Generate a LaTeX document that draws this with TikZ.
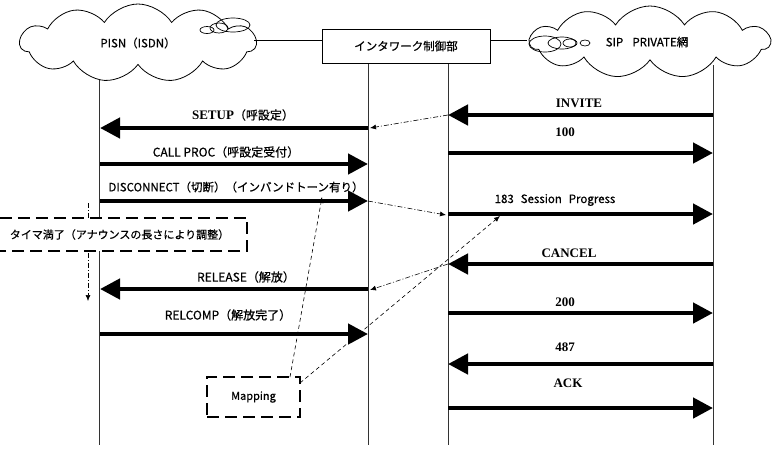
\documentclass[tikz,border=0pt]{standalone}
\usepackage{fontspec}
\usetikzlibrary{arrows.meta,shapes.symbols,calc}
\newfontfamily\jp[FakeBold=0.6]{Noto Sans CJK JP}
\newfontfamily\tms{Liberation Serif}
\begin{document}
\begin{tikzpicture}[x=1pt,y=-1pt,
  lifeline/.style={line width=0.8pt, draw=black!80},
  msg/.style={line width=4.5pt, -{Triangle[length=20pt,width=20pt]}},
  jplabel/.style={font=\jp\fontsize{12}{14}\selectfont, inner sep=0pt},
  siplabel/.style={font=\tms\bfseries\fontsize{13}{15}\selectfont, inner sep=0pt},
  dashdot/.style={line width=0.6pt, dash pattern=on 5pt off 2pt on 1pt off 2pt, -{Latex[length=6pt,width=5pt]}},
  mapline/.style={line width=0.6pt, dash pattern=on 4pt off 3pt, -{Latex[length=6pt,width=5pt]}},
  thickdash/.style={line width=2pt, dash pattern=on 12pt off 6pt},
  netcloud/.style={cloud, draw, fill=white, line width=0.8pt, cloud puffs=11, cloud puff arc=115, aspect=3.1, inner sep=0pt, font=\jp\fontsize{11.5}{13}\selectfont},
  smallell/.style={draw, line width=0.7pt}
]
\useasboundingbox (0,0) rectangle (775,475);

% lifeline coordinates
\coordinate (pt) at (99,70);   \coordinate (pb) at (99,445);
\coordinate (lt) at (368,63);  \coordinate (lb) at (368,445);
\coordinate (rt) at (448,63);  \coordinate (rb) at (448,445);
\coordinate (st) at (713,65);  \coordinate (sb) at (713,445);
\draw[lifeline] (pt) -- (pb);
\draw[lifeline] (lt) -- (lb);
\draw[lifeline] (rt) -- (rb);
\draw[lifeline] (st) -- (sb);

% clouds
\node[netcloud, minimum width=236pt, minimum height=78pt] (pisn) at (138,43) {PISN（ISDN）};
\node[netcloud, minimum width=240pt, minimum height=72pt] (sip) at (650,42) {\hspace{-6pt}SIP\hspace{0.8em}PRIVATE網};
\draw[smallell] (207,30) ellipse [x radius=7, y radius=3.5];
\draw[smallell] (219,28) ellipse [x radius=9, y radius=5];
\draw[smallell] (233,25) ellipse [x radius=17, y radius=7];
\draw[smallell] (545,44) ellipse [x radius=16, y radius=8];
\draw[smallell] (562,43) ellipse [x radius=14, y radius=6];
\draw[smallell] (570,43) ellipse [x radius=7, y radius=4];
\draw[smallell] (585,43) ellipse [x radius=5, y radius=3];

% interwork box
\node[draw, line width=0.8pt, fill=white, minimum width=168pt, minimum height=34pt, inner sep=0pt, font=\jp\fontsize{11.5}{13}\selectfont] (iw) at (406,46) {インタワーク制御部};
\coordinate (cl) at (254,40);
\coordinate (cr) at (527,40);
\draw[line width=0.8pt] (cl) -- (iw.west |- cl);
\draw[line width=0.8pt] (iw.east |- cr) -- (cr);

% message endpoints
\foreach \n/\y in {a/115,b/153,c/214,d/264,e/313,f/364,g/408}{
  \coordinate (R\n) at (448,\y); \coordinate (S\n) at (713,\y);}
\foreach \n/\y in {a/128,b/164,c/201,d/289,e/334}{
  \coordinate (P\n) at (100,\y); \coordinate (L\n) at (368,\y);}

% SIP side messages
\draw[msg] (Sa) -- (Ra);
\draw[msg] (Rb) -- (Sb);
\draw[msg] (Rc) -- (Sc);
\draw[msg] (Sd) -- (Rd);
\draw[msg] (Re) -- (Se);
\draw[msg] (Sf) -- (Rf);
\draw[msg] (Rg) -- (Sg);
\node[siplabel] (linvite) at (579,103) {INVITE};
\node[siplabel] (l100) at (565,132) {100};
\node[inner sep=0pt, font=\jp\fontsize{11.5}{13}\selectfont] (l183) at (555,200) {183\hspace{0.6em}Session\hspace{0.6em}Progress};
\node[siplabel] (lcancel) at (569,253) {CANCEL};
\node[siplabel] (l200) at (565,302) {200};
\node[siplabel] (l487) at (565,347) {487};
\node[siplabel] (lack) at (568,383) {ACK};

% PISN side messages
\draw[msg] (La) -- (Pa);
\draw[msg] (Pb) -- (Lb);
\draw[msg] (Pc) -- (Lc);
\draw[msg] (Ld) -- (Pd);
\draw[msg] (Pe) -- (Le);
\node[jplabel] (lsetup) at (243,115) {{\tms\bfseries\fontsize{13}{15}\selectfont SETUP}（呼設定）};
\node[jplabel] (lcall) at (226,152) {CALL PROC（呼設定受付）};
\node[jplabel, font=\jp\fontsize{11.5}{14}\selectfont] (ldisc) at (236,187) {DISCONNECT（切断）（インバンドトーン有り）};
\node[jplabel] (lrel) at (246,277) {RELEASE（解放）};
\node[jplabel] (lrelc) at (228,315) {RELCOMP（解放完了）};

% interworking dash-dot arrows
\coordinate (ia) at (370,128);
\coordinate (ic) at (446,215);
\coordinate (id) at (370,290);
\draw[dashdot] (Ra) -- (ia);
\draw[dashdot] (Lc) -- (ic);
\draw[dashdot] (Rd) -- (id);

% timer
\coordinate (tt) at (88,203);
\coordinate (tb) at (88,301);
\draw[dashdot] (tt) -- (tb);
\node[fill=white, inner sep=0pt, minimum width=247pt, minimum height=33pt, font=\jp\fontsize{11}{13}\selectfont] (timer) at (123.5,234.5) {\hspace{-8pt}タイマ満了（アナウンスの長さにより調整）};
\draw[thickdash] (timer.north west) -- (timer.north east) -- (timer.south east) -- (timer.south west);

% mapping
\node[draw, thickdash, minimum width=93pt, minimum height=40pt, inner sep=0pt, font=\jp\fontsize{11}{13}\selectfont] (map) at (253.5,397) {Mapping};
\coordinate (m1) at (290,377);
\coordinate (m1e) at (322,197);
\coordinate (m2) at (300,383);
\coordinate (m2e) at (500,216);
\draw[mapline] (m1) -- (m1e);
\draw[mapline] (m2) -- (m2e);
\end{tikzpicture}
\end{document}
